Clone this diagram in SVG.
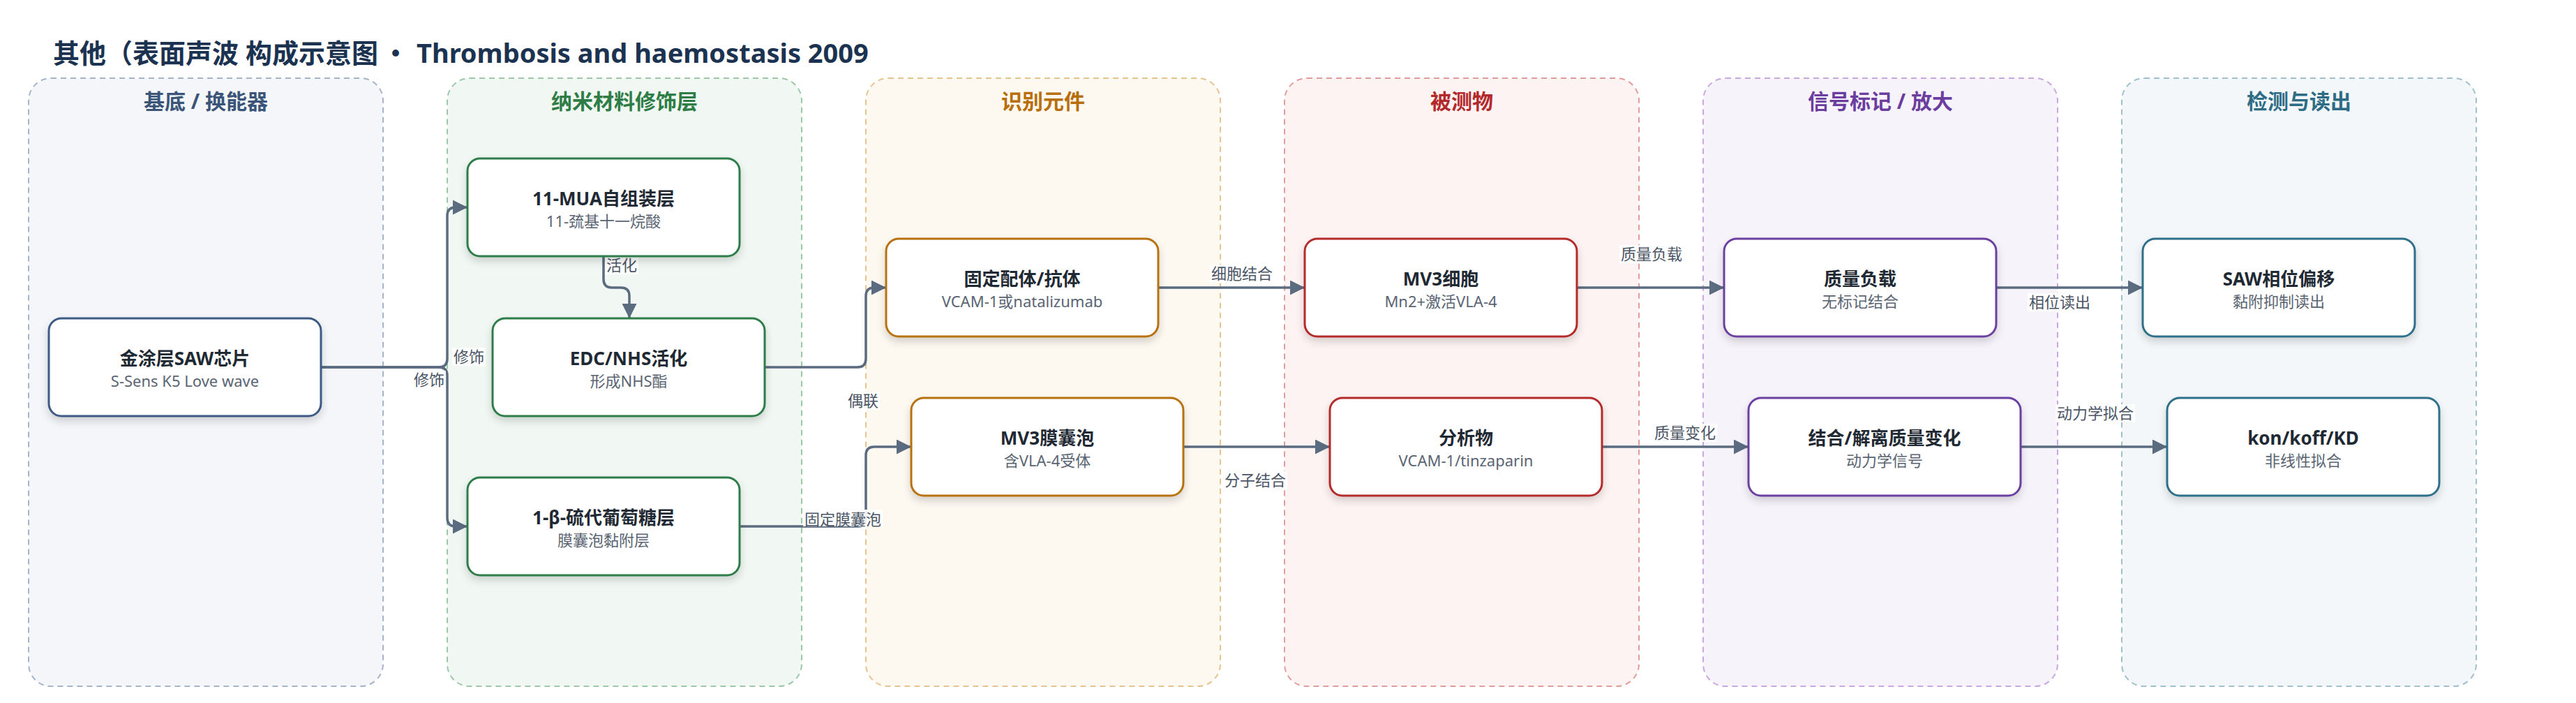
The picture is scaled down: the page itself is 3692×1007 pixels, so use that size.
<svg xmlns="http://www.w3.org/2000/svg" width="3692" height="1007" viewBox="0 0 3692 1007">
<style>
text{font-family:'Noto Sans','Noto Sans CJK SC',sans-serif}
.title{font-size:38px;font-weight:700;fill:#1b3350}
.lane{stroke-width:2;stroke-dasharray:8 6}
.lt{font-size:30px;font-weight:700;text-anchor:middle}
.node rect{fill:#fff;stroke-width:3;filter:url(#sh)}
.nt{font-size:26px;font-weight:700;fill:#1f2933;text-anchor:middle}
.ns{font-size:22px;fill:#5a6472;text-anchor:middle}
.edge{fill:none;stroke:#5b6b80;stroke-width:3.5;marker-end:url(#ah)}
.lb{fill:#fff;fill-opacity:0.9}
.el{font-size:22px;fill:#4a5565;text-anchor:middle}
</style>
<defs>
<filter id="sh" x="-10%" y="-10%" width="120%" height="140%">
<feDropShadow dx="0" dy="6" stdDeviation="6" flood-color="#000" flood-opacity="0.16"/>
</filter>
<marker id="ah" markerUnits="userSpaceOnUse" markerWidth="21" markerHeight="21" refX="20" refY="10.5" orient="auto">
<path d="M0,0 L21,10.5 L0,21 z" fill="#5b6b80"/>
</marker>
</defs>
<rect width="3692" height="1007" fill="#fff"/>
<text class="title" x="76" y="90">其他（表面声波 构成示意图<tspan x="567" text-anchor="middle" style="font-family:'Noto Sans CJK SC',sans-serif">·</tspan><tspan x="597">Thrombosis and haemostasis 2009</tspan></text>

<g id="lanes">
<g id="lane1"><rect class="lane" x="41" y="112" width="508" height="871" rx="32" fill="#f4f6fa" stroke="#a6b4c8"/><text class="lt" x="295" y="156" fill="#3b5578">基底 / 换能器</text></g>
<g id="lane2"><rect class="lane" x="641" y="112" width="508" height="871" rx="32" fill="#f1f8f3" stroke="#9cc8a8"/><text class="lt" x="895" y="156" fill="#2e7d46">纳米材料修饰层</text></g>
<g id="lane3"><rect class="lane" x="1241" y="112" width="508" height="871" rx="32" fill="#fdf8f0" stroke="#e6c48e"/><text class="lt" x="1495" y="156" fill="#b86e0a">识别元件</text></g>
<g id="lane4"><rect class="lane" x="1841" y="112" width="508" height="871" rx="32" fill="#fdf3f2" stroke="#e39c9c"/><text class="lt" x="2095" y="156" fill="#b3282b">被测物</text></g>
<g id="lane5"><rect class="lane" x="2441" y="112" width="508" height="871" rx="32" fill="#f7f3fb" stroke="#c8a8e0"/><text class="lt" x="2695" y="156" fill="#6a3d9e">信号标记 / 放大</text></g>
<g id="lane6"><rect class="lane" x="3041" y="112" width="508" height="871" rx="32" fill="#f3f7f9" stroke="#9fc0cc"/><text class="lt" x="3295" y="156" fill="#2e6c86">检测与读出</text></g>
</g>

<g id="connectors">
<path class="edge" d="M461,526 H629 Q641,526 641,514 V309 Q641,297 653,297 H669"/>
<path class="edge" d="M461,526 H629 Q641,526 641,538 V742 Q641,754 653,754 H669"/>
<path class="edge" d="M865,368 V400 Q865,412 877,412 H890 Q902,412 902,424 V455"/>
<path class="edge" d="M1096,526 H1229 Q1241,526 1241,514 V424 Q1241,412 1253,412 H1269"/>
<path class="edge" d="M1060,754 H1229 Q1241,754 1241,742 V652 Q1241,640 1253,640 H1305"/>
<path class="edge" d="M1660,412 H1869"/>
<path class="edge" d="M1696,640 H1905"/>
<path class="edge" d="M2260,412 H2470"/>
<path class="edge" d="M2296,640 H2505"/>
<path class="edge" d="M2861,412 H3070"/>
<path class="edge" d="M2896,640 H3105"/>
<g id="edge-labels">
<rect class="lb" x="648" y="498" width="48" height="26"/><text class="el" x="672" y="519">修饰</text>
<rect class="lb" x="591" y="531" width="48" height="26"/><text class="el" x="615" y="552">修饰</text>
<rect class="lb" x="867" y="367" width="48" height="26"/><text class="el" x="891" y="388">活化</text>
<rect class="lb" x="1213" y="561" width="48" height="26"/><text class="el" x="1237" y="582">偶联</text>
<rect class="lb" x="1151" y="730" width="114" height="24"/><text class="el" x="1208" y="752">固定膜囊泡</text>
<rect class="lb" x="1734" y="379" width="92" height="26"/><text class="el" x="1780" y="400">细胞结合</text>
<rect class="lb" x="1753" y="675" width="92" height="26"/><text class="el" x="1799" y="696">分子结合</text>
<rect class="lb" x="2321" y="351" width="92" height="26"/><text class="el" x="2367" y="372">质量负载</text>
<rect class="lb" x="2369" y="607" width="92" height="26"/><text class="el" x="2415" y="628">质量变化</text>
<rect class="lb" x="2906" y="420" width="92" height="26"/><text class="el" x="2952" y="441">相位读出</text>
<rect class="lb" x="2946" y="579" width="114" height="26"/><text class="el" x="3003" y="600">动力学拟合</text>
</g>
</g>

<g id="nodes">
<g id="n-saw" class="node"><rect x="70" y="456" width="390" height="140" rx="18" stroke="#3d5a85"/><text class="nt" x="265" y="523">金涂层SAW芯片</text><text class="ns" x="265" y="554">S-Sens K5 Love wave</text></g>
<g id="n-mua" class="node"><rect x="670" y="227" width="390" height="140" rx="18" stroke="#2e7d4a"/><text class="nt" x="865" y="294">11-MUA自组装层</text><text class="ns" x="865" y="325">11-巯基十一烷酸</text></g>
<g id="n-edc" class="node"><rect x="706" y="456" width="390" height="140" rx="18" stroke="#2e7d4a"/><text class="nt" x="901" y="523">EDC/NHS活化</text><text class="ns" x="901" y="554">形成NHS酯</text></g>
<g id="n-glu" class="node"><rect x="670" y="684" width="390" height="140" rx="18" stroke="#2e7d4a"/><text class="nt" x="865" y="751">1-β-硫代葡萄糖层</text><text class="ns" x="865" y="782">膜囊泡黏附层</text></g>
<g id="n-lig" class="node"><rect x="1270" y="342" width="390" height="140" rx="18" stroke="#b8720e"/><text class="nt" x="1465" y="409">固定配体/抗体</text><text class="ns" x="1465" y="440">VCAM-1或natalizumab</text></g>
<g id="n-mv3v" class="node"><rect x="1306" y="570" width="390" height="140" rx="18" stroke="#b8720e"/><text class="nt" x="1501" y="637">MV3膜囊泡</text><text class="ns" x="1501" y="668">含VLA-4受体</text></g>
<g id="n-mv3c" class="node"><rect x="1870" y="342" width="390" height="140" rx="18" stroke="#b52a2a"/><text class="nt" x="2065" y="409">MV3细胞</text><text class="ns" x="2065" y="440">Mn2+激活VLA-4</text></g>
<g id="n-ana" class="node"><rect x="1906" y="570" width="390" height="140" rx="18" stroke="#b52a2a"/><text class="nt" x="2101" y="637">分析物</text><text class="ns" x="2101" y="668">VCAM-1/tinzaparin</text></g>
<g id="n-mass" class="node"><rect x="2471" y="342" width="390" height="140" rx="18" stroke="#6b3fa0"/><text class="nt" x="2666" y="409">质量负载</text><text class="ns" x="2666" y="440">无标记结合</text></g>
<g id="n-kin" class="node"><rect x="2506" y="570" width="390" height="140" rx="18" stroke="#6b3fa0"/><text class="nt" x="2701" y="637">结合/解离质量变化</text><text class="ns" x="2701" y="668">动力学信号</text></g>
<g id="n-phase" class="node"><rect x="3071" y="342" width="390" height="140" rx="18" stroke="#2f6f8a"/><text class="nt" x="3266" y="409">SAW相位偏移</text><text class="ns" x="3266" y="440">黏附抑制读出</text></g>
<g id="n-fit" class="node"><rect x="3106" y="570" width="390" height="140" rx="18" stroke="#2f6f8a"/><text class="nt" x="3301" y="637">kon/koff/KD</text><text class="ns" x="3301" y="668">非线性拟合</text></g>
</g>
</svg>
